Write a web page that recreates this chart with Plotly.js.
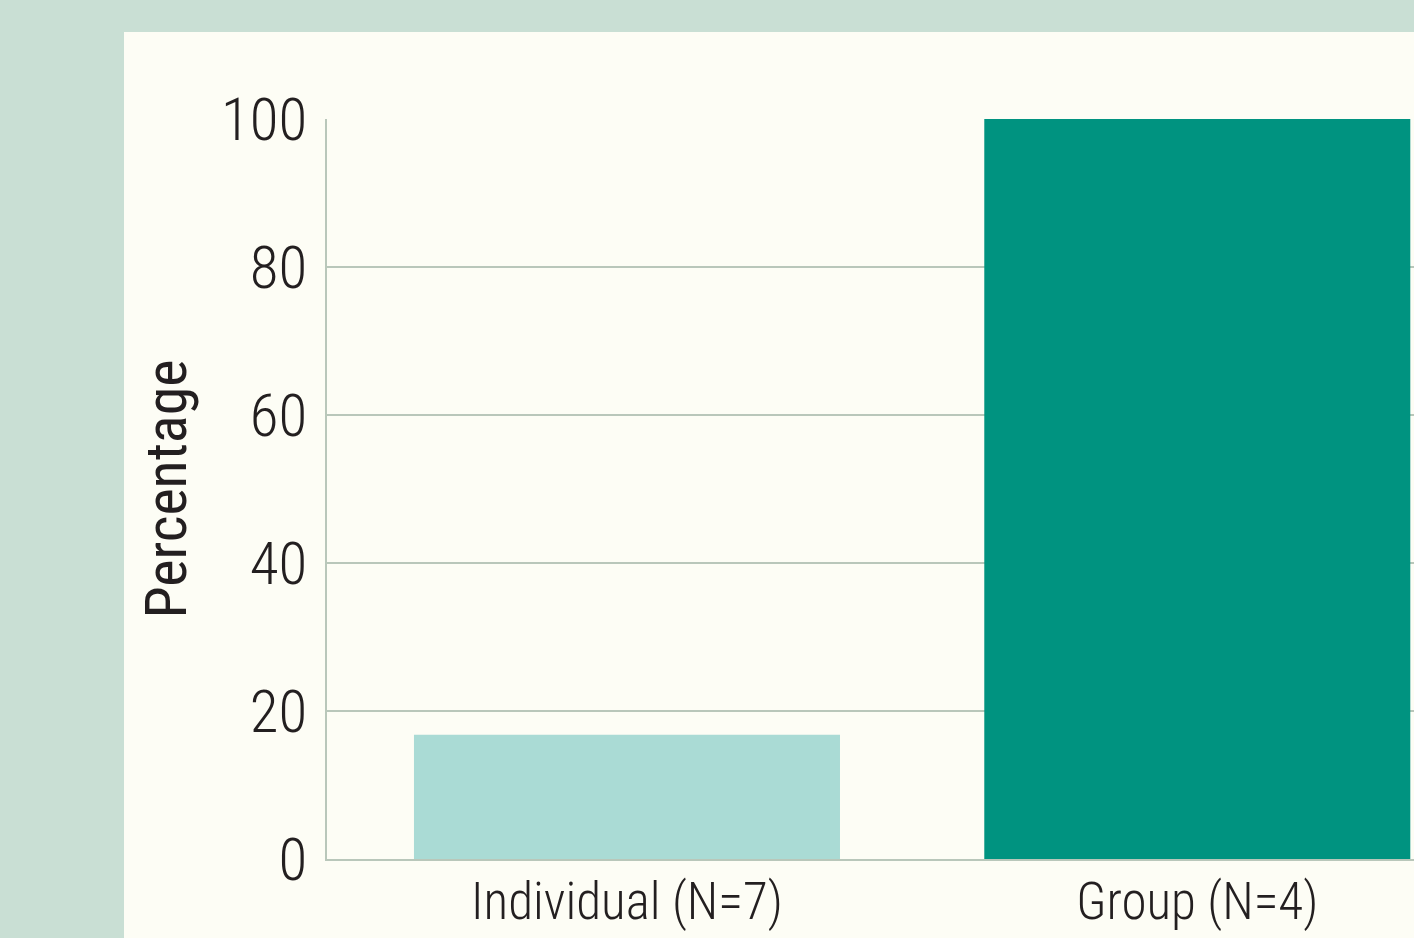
<!DOCTYPE html>
<html>
<head>
<meta charset="utf-8">
<script src="https://cdn.plot.ly/plotly-3.0.1.min.js"></script>
<style>
  html, body { margin: 0; padding: 0; background: #c9dfd4; overflow: hidden; }
  #chart { width: 1414px; height: 938px; }
</style>
</head>
<body>
<div id="chart"></div>
<script>
var categories = ["Individual (N=7)", "Group (N=4)"];
var percentages = [16.8, 100];
var yTickValues = [0, 20, 40, 60, 80, 100];

var FONT = '"Roboto Condensed", "Liberation Sans Narrow", sans-serif';
var TEXT = '#231f20';
var GRID = '#b9c7ba';

var trace = {
  type: 'bar',
  x: categories,
  y: percentages,
  marker: { color: ['#aadbd5', '#009380'], line: { width: 0 } },
  hoverinfo: 'x+y'
};

var layout = {
  width: 1414,
  height: 938,
  margin: { l: 327, r: 0, t: 119, b: 79, pad: 0 },
  paper_bgcolor: '#c9dfd4',
  plot_bgcolor: '#fdfdf5',
  showlegend: false,
  bargap: 0.253,
  font: { family: FONT, color: TEXT, weight: 300 },
  xaxis: {
    type: 'category',
    range: [-0.526, 1.38],
    showgrid: false,
    zeroline: false,
    showline: true,
    linecolor: GRID,
    linewidth: 2,
    ticks: '',
    ticklabelstandoff: -3,
    tickfont: { family: FONT, size: 51, color: TEXT, weight: 300 },
    fixedrange: true
  },
  yaxis: {
    range: [0, 100],
    tickvals: yTickValues,
    ticktext: yTickValues.map(String),
    showgrid: true,
    gridcolor: GRID,
    gridwidth: 1.5,
    zeroline: false,
    showline: true,
    linecolor: GRID,
    linewidth: 2,
    ticks: '',
    ticklabelstandoff: 6,
    tickfont: { family: FONT, size: 59, color: TEXT, weight: 300 },
    title: { text: 'Percentage', font: { family: FONT, size: 58, color: TEXT, weight: 400 }, standoff: 16 },
    fixedrange: true
  },
  shapes: [{
    type: 'rect',
    xref: 'paper', yref: 'paper',
    x0: (124 - 327) / 1087, x1: 1.05,
    y0: -0.3, y1: (859 - 32) / 740,
    fillcolor: '#fdfdf5',
    line: { width: 0 },
    layer: 'below'
  }]
};

Plotly.newPlot('chart', [trace], layout, { displayModeBar: false, staticPlot: true });
</script>
</body>
</html>
